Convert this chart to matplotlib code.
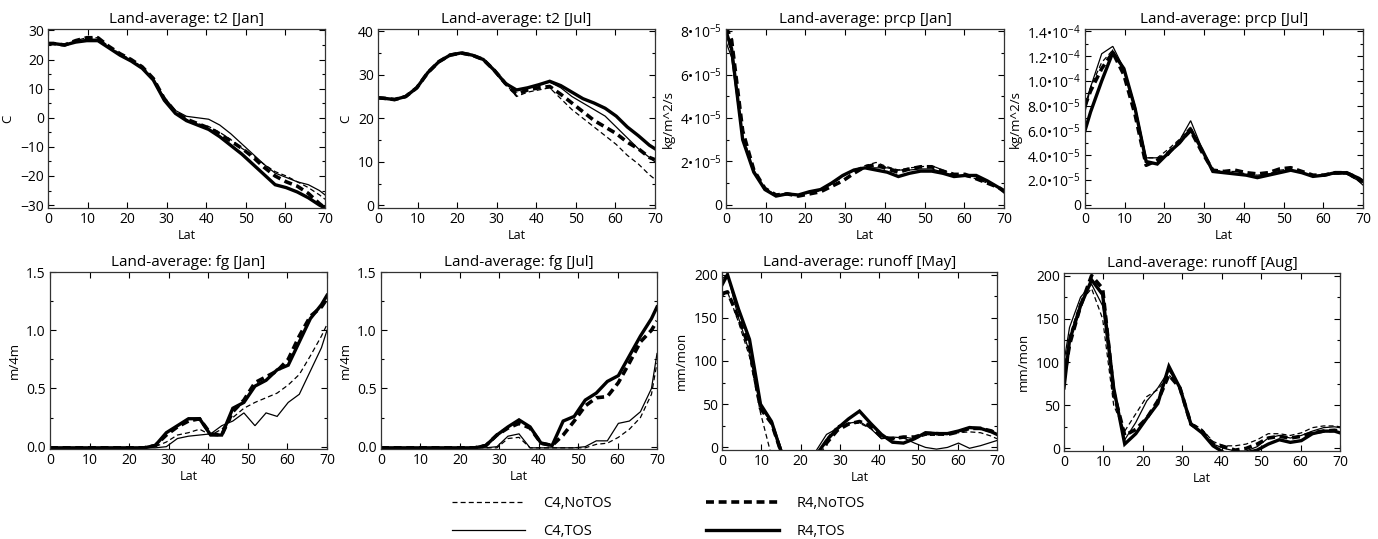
import matplotlib
matplotlib.use("Agg")
import matplotlib.pyplot as plt
from matplotlib.ticker import AutoMinorLocator
from matplotlib.lines import Line2D

plt.rcParams['font.family'] = ['Open Sans', 'DejaVu Sans']
plt.rcParams['mathtext.fontset'] = 'custom'
plt.rcParams['mathtext.rm'] = 'Open Sans'
plt.rcParams['mathtext.it'] = 'Open Sans'

lat = [0, 1.4, 4.2, 7.0, 9.8, 12.6, 15.4, 18.2, 21.0, 23.8, 26.6, 29.4, 32.2,
       35.0, 37.8, 40.6, 43.4, 46.2, 49.0, 51.8, 54.6, 57.4, 60.2, 63.0, 65.8, 68.6, 70]

series_names = ["C4,NoTOS", "C4,TOS", "R4,NoTOS", "R4,TOS"]

# ---- t2 Jan (C)
t2_jan_c4notos = [25.5, 25.5, 25, 26.5, 27.5, 27.5, 24.5, 22, 20, 17.5, 13.5, 7, 2, -0.5, -2, -3, -5, -7.5, -10.5, -13, -16, -18.5, -20, -22, -24, -26.5, -28]
t2_jan_c4tos = [25.5, 25.5, 25, 26, 27, 27, 24, 21.5, 19.5, 17, 13, 7, 2.5, 0.5, 0, -0.5, -2.5, -5.5, -9, -12.5, -16, -19, -20.5, -22, -23, -25, -26.5]
t2_jan_r4notos = [25.5, 25.5, 25, 26.5, 27.5, 27.5, 24.5, 22, 20, 17.5, 13.5, 6.5, 2, -0.5, -2, -3.5, -5.5, -8, -10.5, -13.5, -17, -20, -22, -23.5, -26, -29.5, -31]
t2_jan_r4tos = [25.5, 25.5, 25, 26, 26.5, 26.5, 24, 21.5, 19.5, 17, 13, 6, 1.5, -1, -2.5, -4, -6.5, -9.5, -12.5, -16, -19.5, -23, -24, -25.5, -27.5, -30, -31]

# ---- t2 Jul (C)
t2_jul_c4notos = [24.7, 24.6, 24.3, 25, 27, 30.5, 33, 34.5, 35, 34.5, 33.5, 31, 28, 25, 26, 26.5, 27, 24.5, 22, 20, 18, 16, 14, 11.5, 9.5, 7, 6]
t2_jul_c4tos = [24.7, 24.6, 24.3, 25, 27, 30.5, 33, 34.5, 35, 34.5, 33.5, 31, 28, 26.5, 27, 27.7, 28.3, 27, 25, 23.5, 22, 20.5, 18, 15.5, 13, 11, 10]
t2_jul_r4notos = [24.7, 24.6, 24.3, 25, 27, 30.5, 33, 34.5, 35, 34.5, 33.5, 31, 28, 25.5, 26.5, 27, 27.3, 25.5, 23.5, 21.5, 19.5, 18, 16.5, 14.5, 13, 11, 10.5]
t2_jul_r4tos = [24.7, 24.6, 24.3, 25, 27, 30.5, 33, 34.5, 35, 34.5, 33.5, 31, 28, 26.5, 27, 27.7, 28.5, 27.5, 26, 24.5, 23.5, 22.3, 20.5, 18, 16, 13.8, 13]

# ---- prcp Jan (units of 1e-5 kg/m^2/s)
prcp_jan_c4notos = [7.8, 7.0, 3.2, 1.6, 0.75, 0.45, 0.5, 0.4, 0.55, 0.65, 0.95, 1.3, 1.6, 1.8, 1.95, 1.75, 1.6, 1.7, 1.75, 1.8, 1.6, 1.35, 1.3, 1.2, 1.0, 0.8, 0.65]
prcp_jan_c4tos = [7.5, 6.8, 3.0, 1.5, 0.7, 0.45, 0.5, 0.45, 0.6, 0.7, 1.0, 1.35, 1.6, 1.7, 1.7, 1.7, 1.6, 1.6, 1.65, 1.65, 1.5, 1.35, 1.35, 1.3, 1.05, 0.8, 0.6]
prcp_jan_r4notos = [8.2, 7.6, 3.4, 1.6, 0.75, 0.45, 0.5, 0.4, 0.5, 0.6, 0.85, 1.1, 1.45, 1.75, 1.85, 1.65, 1.5, 1.65, 1.75, 1.75, 1.55, 1.4, 1.4, 1.2, 1.0, 0.8, 0.65]
prcp_jan_r4tos = [8.0, 7.2, 3.0, 1.5, 0.7, 0.4, 0.5, 0.45, 0.6, 0.7, 1.0, 1.35, 1.6, 1.7, 1.6, 1.5, 1.3, 1.45, 1.55, 1.55, 1.45, 1.3, 1.35, 1.35, 1.1, 0.8, 0.6]

# ---- prcp Jul (units of 1e-5 kg/m^2/s)
prcp_jul_c4notos = [8.0, 9.5, 11.5, 12.5, 10.8, 7.8, 3.8, 3.8, 4.5, 5.3, 6.3, 4.5, 2.8, 2.7, 2.7, 2.5, 2.4, 2.5, 2.8, 2.9, 2.6, 2.3, 2.4, 2.5, 2.5, 2.0, 1.7]
prcp_jul_c4tos = [7.5, 9.5, 12.2, 12.8, 11.0, 8.0, 3.8, 3.8, 4.0, 5.2, 6.8, 4.6, 2.7, 2.6, 2.5, 2.4, 2.3, 2.5, 2.7, 2.8, 2.6, 2.3, 2.4, 2.5, 2.5, 2.0, 1.6]
prcp_jul_r4notos = [8.0, 9.2, 11.0, 12.3, 10.5, 7.3, 3.2, 3.6, 4.2, 5.1, 6.0, 4.3, 2.8, 2.7, 2.8, 2.6, 2.5, 2.6, 2.9, 3.0, 2.7, 2.4, 2.4, 2.6, 2.6, 2.2, 1.9]
prcp_jul_r4tos = [6.0, 7.5, 10.0, 12.3, 11.0, 7.8, 3.5, 3.3, 4.2, 5.0, 6.1, 4.5, 2.7, 2.6, 2.5, 2.4, 2.2, 2.4, 2.6, 2.8, 2.6, 2.3, 2.4, 2.6, 2.6, 2.2, 1.9]

# ---- fg Jan (m/4m)
fg_jan_c4notos = [-0.01, -0.01, -0.01, -0.01, -0.01, -0.01, -0.01, -0.01, -0.01, -0.01, 0.0, 0.04, 0.1, 0.12, 0.15, 0.1, 0.15, 0.25, 0.33, 0.38, 0.42, 0.46, 0.53, 0.62, 0.78, 0.95, 1.05]
fg_jan_c4tos = [-0.01, -0.01, -0.01, -0.01, -0.01, -0.01, -0.01, -0.01, -0.01, -0.01, -0.01, 0.0, 0.07, 0.09, 0.1, 0.11, 0.18, 0.22, 0.29, 0.18, 0.29, 0.26, 0.38, 0.45, 0.65, 0.85, 1.0]
fg_jan_r4notos = [-0.01, -0.01, -0.01, -0.01, -0.01, -0.01, -0.01, -0.01, -0.01, -0.01, 0.01, 0.1, 0.17, 0.22, 0.24, 0.11, 0.1, 0.3, 0.4, 0.55, 0.6, 0.65, 0.75, 0.95, 1.12, 1.2, 1.27]
fg_jan_r4tos = [-0.01, -0.01, -0.01, -0.01, -0.01, -0.01, -0.01, -0.01, -0.01, -0.01, 0.01, 0.12, 0.18, 0.24, 0.24, 0.1, 0.1, 0.33, 0.38, 0.52, 0.57, 0.66, 0.7, 0.9, 1.1, 1.22, 1.3]

# ---- fg Jul (m/4m)
fg_jul_c4notos = [-0.01, -0.01, -0.01, -0.01, -0.01, -0.01, -0.01, -0.01, -0.01, -0.01, -0.01, -0.01, 0.07, 0.08, -0.01, -0.01, -0.01, -0.01, -0.01, -0.01, 0.02, 0.03, 0.08, 0.15, 0.25, 0.45, 0.72]
fg_jul_c4tos = [-0.01, -0.01, -0.01, -0.01, -0.01, -0.01, -0.01, -0.01, -0.01, -0.01, -0.01, 0.0, 0.09, 0.11, -0.01, -0.01, -0.01, -0.01, -0.01, 0.0, 0.05, 0.05, 0.2, 0.22, 0.3, 0.5, 0.8]
fg_jul_r4notos = [-0.01, -0.01, -0.01, -0.01, -0.01, -0.01, -0.01, -0.01, -0.01, -0.01, 0.01, 0.1, 0.16, 0.2, 0.16, 0.03, 0.01, 0.1, 0.22, 0.35, 0.42, 0.43, 0.55, 0.72, 0.9, 1.0, 1.08]
fg_jul_r4tos = [-0.01, -0.01, -0.01, -0.01, -0.01, -0.01, -0.01, -0.01, -0.01, -0.01, 0.01, 0.1, 0.17, 0.23, 0.17, 0.03, 0.01, 0.22, 0.26, 0.4, 0.46, 0.56, 0.61, 0.78, 0.95, 1.1, 1.2]

# ---- runoff May (mm/mon)
ro_may_c4notos = [175, 180, 145, 105, 40, -10, -30, -30, -30, -30, 10, 25, 28, 28, 22, 12, 10, 12, 10, 14, 14, 15, 17, 18, 17, 13, 10]
ro_may_c4tos = [195, 200, 150, 110, 45, 30, -5, -30, -30, -5, 15, 22, 28, 30, 22, 10, 12, 11, 5, 0, -2, 0, 5, -1, 2, 6, 8]
ro_may_r4notos = [178, 180, 150, 115, 45, 28, -10, -30, -30, -30, 5, 20, 27, 30, 25, 12, 10, 12, 12, 16, 16, 15, 18, 22, 22, 19, 15]
ro_may_r4tos = [188, 200, 160, 125, 50, 30, -10, -30, -30, -10, 8, 22, 33, 42, 28, 15, 6, 5, 10, 17, 16, 16, 19, 23, 22, 18, 15]

# ---- runoff Aug (mm/mon)
ro_aug_c4notos = [90, 130, 170, 185, 150, 50, 20, 40, 60, 68, 85, 72, 30, 22, 8, 3, 3, 5, 10, 17, 17, 15, 18, 24, 26, 26, 25]
ro_aug_c4tos = [100, 140, 175, 190, 165, 65, 10, 30, 55, 70, 90, 72, 28, 18, 5, 0, -3, -3, 2, 12, 15, 12, 15, 20, 24, 25, 24]
ro_aug_r4notos = [80, 120, 165, 200, 185, 65, 15, 22, 35, 55, 85, 70, 28, 20, 5, 2, -2, 0, 5, 12, 14, 12, 14, 18, 20, 21, 20]
ro_aug_r4tos = [70, 125, 165, 195, 178, 70, 5, 17, 35, 52, 95, 70, 28, 18, 3, -5, -5, -5, -2, 5, 10, 7, 9, 17, 20, 20, 18]

panel_titles = ["Land-average: t2 [Jan]", "Land-average: t2 [Jul]",
                "Land-average: prcp [Jan]", "Land-average: prcp [Jul]",
                "Land-average: fg [Jan]", "Land-average: fg [Jul]",
                "Land-average: runoff [May]", "Land-average: runoff [Aug]"]
panel_ylabels = ["C", "C", "kg/m^2/s", "kg/m^2/s", "m/4m", "m/4m", "mm/mon", "mm/mon"]

panel_data = [
    [t2_jan_c4notos, t2_jan_c4tos, t2_jan_r4notos, t2_jan_r4tos],
    [t2_jul_c4notos, t2_jul_c4tos, t2_jul_r4notos, t2_jul_r4tos],
    [prcp_jan_c4notos, prcp_jan_c4tos, prcp_jan_r4notos, prcp_jan_r4tos],
    [prcp_jul_c4notos, prcp_jul_c4tos, prcp_jul_r4notos, prcp_jul_r4tos],
    [fg_jan_c4notos, fg_jan_c4tos, fg_jan_r4notos, fg_jan_r4tos],
    [fg_jul_c4notos, fg_jul_c4tos, fg_jul_r4notos, fg_jul_r4tos],
    [ro_may_c4notos, ro_may_c4tos, ro_may_r4notos, ro_may_r4tos],
    [ro_aug_c4notos, ro_aug_c4tos, ro_aug_r4notos, ro_aug_r4tos],
]

x_ticks = [0, 10, 20, 30, 40, 50, 60, 70]
prcp_jan_ticks = [0, 2, 4, 6, 8]
prcp_jan_ticklabels = ["0", "2•10$^{-5}$", "4•10$^{-5}$", "6•10$^{-5}$", "8•10$^{-5}$"]
prcp_jul_ticks = [0, 2, 4, 6, 8, 10, 12, 14]
prcp_jul_ticklabels = ["0", "2.0•10$^{-5}$", "4.0•10$^{-5}$", "6.0•10$^{-5}$", "8.0•10$^{-5}$",
                       "1.0•10$^{-4}$", "1.2•10$^{-4}$", "1.4•10$^{-4}$"]

styles = [dict(color='black', lw=0.9, ls=(0, (4, 2.5))),
          dict(color='black', lw=0.9, ls='-'),
          dict(color='black', lw=2.6, ls=(0, (2.2, 1.3))),
          dict(color='black', lw=2.4, ls='-')]

W, H = 1378, 539
fig = plt.figure(figsize=(W / 100, H / 100), dpi=100)

boxes_px = [(48, 29, 325, 208), (378, 29, 655, 208), (726, 29, 1004, 208), (1085, 29, 1363, 208),
            (50, 272, 327, 449), (381, 272, 657, 449), (722, 272, 997, 450), (1064, 273, 1340, 451)]
ylims = [(-31, 30.5), (-0.6, 40.5), (-0.15, 8.1), (-0.25, 14.2),
         (-0.02, 1.5), (-0.02, 1.5), (-3, 203), (-3, 203)]
yticks = [[-30, -20, -10, 0, 10, 20, 30], [0, 10, 20, 30, 40], prcp_jan_ticks, prcp_jul_ticks,
          [0, 0.5, 1.0, 1.5], [0, 0.5, 1.0, 1.5], [0, 50, 100, 150, 200], [0, 50, 100, 150, 200]]

for i in range(8):
    l, t, r, b = boxes_px[i]
    ax = fig.add_axes([l / W, 1 - b / H, (r - l) / W, (b - t) / H])
    for s, ydata in enumerate(panel_data[i]):
        ax.plot(lat, ydata, **styles[s], solid_joinstyle='miter', dash_capstyle='butt')
    ax.set_xlim(0, 70)
    ax.set_ylim(*ylims[i])
    ax.set_xticks(x_ticks)
    ax.set_yticks(yticks[i])
    if i == 2:
        ax.set_yticklabels(prcp_jan_ticklabels)
    elif i == 3:
        ax.set_yticklabels(prcp_jul_ticklabels)
    elif i in (4, 5):
        ax.set_yticklabels(["0.0", "0.5", "1.0", "1.5"])
    ax.yaxis.set_minor_locator(AutoMinorLocator(2))
    ax.tick_params(which='both', direction='in', top=True, right=True, labelsize=10,
                   width=0.8, pad=3)
    ax.tick_params(which='major', length=4)
    ax.tick_params(which='minor', length=2.5)
    for sp in ax.spines.values():
        sp.set_linewidth(0.9)
        sp.set_color('#333333')
    ax.set_title(panel_titles[i], fontsize=11, pad=4)
    ax.set_xlabel("Lat", fontsize=9, labelpad=1)
    ax.set_ylabel(panel_ylabels[i], fontsize=9.5, labelpad=4)

handles = [Line2D([], [], **styles[k]) for k in range(4)]
fig.legend(handles, series_names, loc='center', bbox_to_anchor=(0.478, 0.04), ncol=2,
           frameon=False, fontsize=10.5, handlelength=5.0, handletextpad=1.2,
           columnspacing=6.5, labelspacing=0.9)

fig.savefig("out.png", dpi=100)
